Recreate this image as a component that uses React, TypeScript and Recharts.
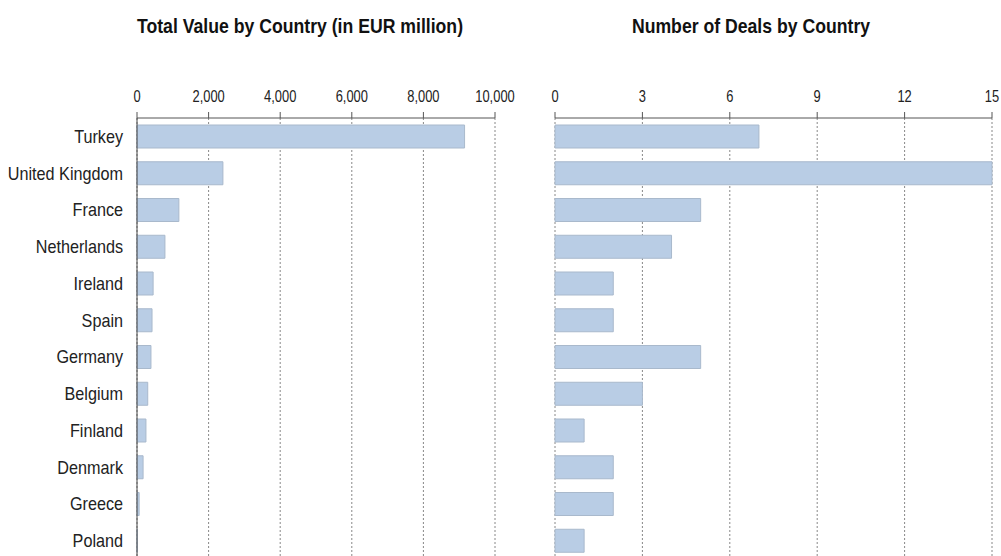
import { Bar, BarChart, CartesianGrid, XAxis, YAxis } from "recharts";

const countries = [
  "Turkey",
  "United Kingdom",
  "France",
  "Netherlands",
  "Ireland",
  "Spain",
  "Germany",
  "Belgium",
  "Finland",
  "Denmark",
  "Greece",
  "Poland",
];
const totalValue = [9150, 2400, 1170, 780, 450, 420, 390, 300, 250, 170, 60, 8];
const dealCount = [7, 15, 5, 4, 2, 2, 5, 3, 1, 2, 2, 1];
const valueTicks = [0, 2000, 4000, 6000, 8000, 10000];
const dealTicks = [0, 3, 6, 9, 12, 15];

const FONT = "'Liberation Sans', Arial, sans-serif";
const BAR_FILL = "#b9cde5";
const BAR_EDGE = "#a9b9cc";

const data = countries.map((c, i) => ({ country: c, value: totalValue[i], deals: dealCount[i] }));

const titleStyle: React.CSSProperties = {
  position: "absolute",
  top: 14,
  fontFamily: FONT,
  fontWeight: 700,
  fontSize: 21,
  color: "#111",
  whiteSpace: "nowrap",
  transform: "translateX(-50%) scaleX(0.84)",
};

// narrow-looking text: the reference uses a condensed face we don't have
function NumTick({ x, y, payload }: { x?: number; y?: number; payload?: { value: number } }) {
  return (
    <text
      transform={`translate(${x},${(y ?? 0) - 1}) scale(0.76,1)`}
      textAnchor="middle"
      fontSize={17}
      fontFamily={FONT}
      fill="#222"
    >
      {(payload?.value ?? 0).toLocaleString("en-US")}
    </text>
  );
}

function CountryTick({ x, y, payload }: { x?: number; y?: number; payload?: { value: string } }) {
  return (
    <text
      transform={`translate(${(x ?? 0) + 4},${y}) scale(0.9,1)`}
      textAnchor="end"
      dy="0.36em"
      fontSize={18}
      fontFamily={FONT}
      fill="#222"
    >
      {payload?.value}
    </text>
  );
}

export default function App() {
  return (
    <div
      style={{
        position: "fixed",
        left: 0,
        top: 0,
        width: 1001,
        height: 556,
        overflow: "hidden",
        background: "#fff",
      }}
    >
      <div style={{ ...titleStyle, left: 300 }}>Total Value by Country (in EUR million)</div>
      <div style={{ ...titleStyle, left: 751 }}>Number of Deals by Country</div>

      <div style={{ position: "absolute", left: 0, top: 0 }}>
        <BarChart
          width={520}
          height={566}
          data={data}
          layout="vertical"
          barSize={23}
          margin={{ top: 78, right: 25, left: 0, bottom: 7 }}
        >
          <CartesianGrid horizontal={false} strokeDasharray="2 2" stroke="#888" />
          <XAxis
            type="number"
            orientation="top"
            domain={[0, 10000]}
            ticks={valueTicks}
            tick={<NumTick />}
            stroke="#555"
            tickSize={6}
            tickMargin={9}
            height={40}
            interval={0}
          />
          <YAxis
            type="category"
            dataKey="country"
            width={137}
            tick={<CountryTick />}
            tickLine={false}
            stroke="#444"
            tickMargin={12}
            interval={0}
          />
          <Bar dataKey="value" fill={BAR_FILL} stroke={BAR_EDGE} strokeWidth={1} isAnimationActive={false} />
        </BarChart>
      </div>

      <div style={{ position: "absolute", left: 540, top: 0 }}>
        <BarChart
          width={461}
          height={566}
          data={data}
          layout="vertical"
          barSize={23}
          margin={{ top: 78, right: 9, left: 15, bottom: 7 }}
        >
          <CartesianGrid horizontal={false} strokeDasharray="2 2" stroke="#888" />
          <XAxis
            type="number"
            orientation="top"
            domain={[0, 15]}
            ticks={dealTicks}
            tick={<NumTick />}
            stroke="#555"
            tickSize={6}
            tickMargin={9}
            height={40}
            interval={0}
          />
          <YAxis type="category" dataKey="country" width={0} tick={false} tickLine={false} stroke="#888" />
          <Bar dataKey="deals" fill={BAR_FILL} stroke={BAR_EDGE} strokeWidth={1} isAnimationActive={false} />
        </BarChart>
      </div>
    </div>
  );
}
